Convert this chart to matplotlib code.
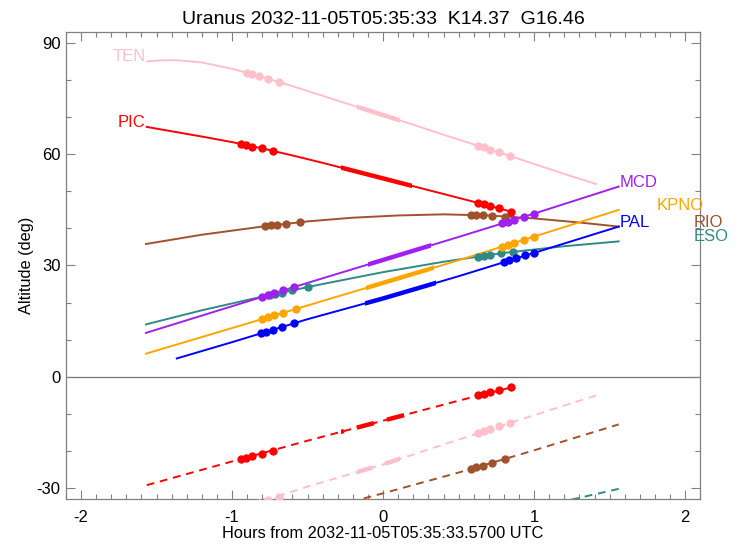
import matplotlib
matplotlib.use('Agg')
import matplotlib.pyplot as plt
from matplotlib.patches import Rectangle
from matplotlib.ticker import MultipleLocator

plt.rcParams['font.family'] = ['Liberation Sans', 'DejaVu Sans']
plt.rcParams['axes.unicode_minus'] = False

# Uranus altitude per site (hours from reference time, degrees)
ten_hours = [-1.56, -1.46, -1.36, -1.20, -1.00, -0.80, -0.60, -0.40, -0.20, 0.00, 0.20, 0.40, 0.60, 0.80, 1.00, 1.20, 1.41]
ten_alt = [85.1, 85.4, 85.4, 84.8, 83.1, 80.9, 78.4, 75.8, 73.2, 70.6, 68.0, 65.3, 62.7, 60.1, 57.4, 54.7, 52.0]
pic_hours = [-1.565, -1.20, -1.00, -0.80, -0.60, -0.40, -0.20, 0.00, 0.20, 0.40, 0.60, 0.86]
pic_alt = [67.4, 64.8, 63.3, 61.6, 59.7, 57.7, 55.6, 53.5, 51.4, 49.3, 47.2, 44.4]
mcd_hours = [-1.57, -1.00, -0.50, 0.00, 0.50, 1.00, 1.56]
mcd_alt = [11.8, 19.0, 25.3, 31.5, 37.7, 44.0, 51.3]
kpno_hours = [-1.57, -1.00, -0.50, 0.00, 0.50, 1.00, 1.56]
kpno_alt = [6.2, 13.1, 19.2, 25.3, 31.4, 37.8, 45.0]
pal_hours = [-1.366, -1.00, -0.50, 0.00, 0.50, 1.00, 1.56]
pal_alt = [4.9, 9.3, 15.5, 21.1, 27.1, 33.4, 40.5]
rio_hours = [-1.57, -1.20, -0.80, -0.50, -0.20, 0.10, 0.40, 0.70, 1.00, 1.30, 1.56]
rio_alt = [35.8, 38.3, 40.5, 41.9, 42.9, 43.5, 43.8, 43.5, 42.7, 41.6, 40.5]
eso_hours = [-1.57, -1.20, -0.80, -0.40, 0.00, 0.40, 0.80, 1.20, 1.56]
eso_alt = [14.1, 17.9, 21.6, 25.0, 28.2, 31.0, 33.4, 35.2, 36.5]

# Sun altitude per site (only the visible ones)
ten_sun_hours = [-1.56, -1.00, -0.50, 0.00, 0.50, 1.00, 1.41]
ten_sun_alt = [-43.5, -36.2, -29.7, -23.7, -17.0, -10.4, -5.1]
pic_sun_hours = [-1.565, -1.00, -0.50, 0.00, 0.50, 0.86]
pic_sun_alt = [-29.3, -22.9, -17.3, -11.9, -6.5, -2.8]
rio_sun_hours = [-1.57, -1.00, -0.50, 0.00, 0.50, 1.00, 1.56]
rio_sun_alt = [-49.0, -42.5, -36.9, -31.5, -25.9, -19.9, -12.9]
eso_sun_hours = [-1.57, 0.00, 1.00, 1.56]
eso_sun_alt = [-58.0, -44.0, -35.5, -30.3]

# observation times and altitudes (dots)
ten_obs = [-0.90, -0.865, -0.82, -0.76, -0.69, 0.63, 0.665, 0.71, 0.77, 0.84]
ten_obs_alt = [82.0, 81.6, 81.1, 80.4, 79.5, 62.3, 61.9, 61.3, 60.5, 59.6]
ten_obs_sun = [-35.0, -34.6, -34.0, -33.3, -32.4, -15.3, -14.8, -14.2, -13.4, -12.5]
pic_obs = [-0.944, -0.911, -0.865, -0.805, -0.732, 0.63, 0.665, 0.71, 0.77, 0.85]
pic_obs_alt = [62.8, 62.5, 62.1, 61.6, 60.9, 46.9, 46.5, 46.0, 45.4, 44.5]
pic_obs_sun = [-22.3, -21.9, -21.4, -20.8, -20.0, -5.1, -4.7, -4.2, -3.6, -2.7]
mcd_obs = [-0.80, -0.765, -0.72, -0.66, -0.59, 0.79, 0.825, 0.87, 0.93, 1.00]
mcd_obs_alt = [21.5, 21.9, 22.5, 23.3, 24.1, 41.4, 41.8, 42.4, 43.1, 44.0]
kpno_obs = [-0.80, -0.765, -0.72, -0.66, -0.58, 0.79, 0.825, 0.87, 0.93, 1.00]
kpno_obs_alt = [15.5, 16.0, 16.5, 17.2, 18.2, 35.1, 35.6, 36.1, 36.9, 37.8]
pal_obs = [-0.81, -0.775, -0.73, -0.67, -0.59, 0.80, 0.835, 0.88, 0.94, 1.00]
pal_obs_alt = [11.7, 12.1, 12.6, 13.4, 14.4, 30.9, 31.4, 31.9, 32.7, 33.4]
rio_obs = [-0.78, -0.745, -0.70, -0.64, -0.55, 0.58, 0.615, 0.66, 0.72, 0.81]
rio_obs_alt = [40.6, 40.8, 41.0, 41.3, 41.7, 43.6, 43.6, 43.55, 43.45, 43.2]
rio_obs_sun = [-40.0, -39.6, -39.1, -38.4, -37.4, -24.9, -24.5, -24.0, -23.3, -22.2]
eso_obs = [-0.75, -0.715, -0.67, -0.60, -0.50, 0.63, 0.665, 0.71, 0.78, 0.86]
eso_obs_alt = [22.0, 22.3, 22.7, 23.3, 24.1, 32.4, 32.6, 32.9, 33.3, 33.7]

# (start, end) of the highlighted stretch, hours
ten_window = (-0.17, 0.11)
pic_window = (-0.28, 0.19)
mcd_window = (-0.10, 0.32)
kpno_window = (-0.11, 0.34)
pal_window = (-0.12, 0.35)

sites = [
    # name, colour, hours, alt, sun hours, sun alt, obs, obs alt, obs sun, window, label side
    ('TEN', '#ffc0cb', ten_hours, ten_alt, ten_sun_hours, ten_sun_alt,
     ten_obs, ten_obs_alt, ten_obs_sun, ten_window, 'start'),
    ('PIC', '#ff0000', pic_hours, pic_alt, pic_sun_hours, pic_sun_alt,
     pic_obs, pic_obs_alt, pic_obs_sun, pic_window, 'start'),
    ('RIO', '#a0522d', rio_hours, rio_alt, rio_sun_hours, rio_sun_alt,
     rio_obs, rio_obs_alt, rio_obs_sun, None, 'end'),
    ('ESO', '#2e8b87', eso_hours, eso_alt, eso_sun_hours, eso_sun_alt,
     eso_obs, eso_obs_alt, None, None, 'end'),
    ('MCD', '#a020f0', mcd_hours, mcd_alt, None, None,
     mcd_obs, mcd_obs_alt, None, mcd_window, 'end'),
    ('KPNO', '#ffa500', kpno_hours, kpno_alt, None, None,
     kpno_obs, kpno_obs_alt, None, kpno_window, 'end'),
    ('PAL', '#0000ff', pal_hours, pal_alt, None, None,
     pal_obs, pal_obs_alt, None, pal_window, 'end'),
]

# extra label shift (points) so that the right-hand names do not collide
label_shift = {'KPNO': 26, 'RIO': 53, 'ESO': 53}

DASH = (0, (4, 3))

fig = plt.figure(figsize=(7.41, 5.44), dpi=100)
ax = fig.add_axes([0.089, 0.083, 0.856, 0.858])


def draw_curve(x, y, color, ls, window):
    ax.plot(x, y, color=color, lw=1.4, ls=ls, zorder=2)
    if window is not None:
        thick, = ax.plot(x, y, color=color, lw=3.2, ls=ls, zorder=2)
        clip = Rectangle((window[0], -100), window[1] - window[0], 250,
                         transform=ax.transData)
        thick.set_clip_path(clip)


ax.axhline(0, color='0.45', lw=0.9, zorder=1)

for (name, color, hrs, alt, sh, sa, obs, oalt, osun, window, side) in sites:
    draw_curve(hrs, alt, color, '-', window)
    ax.plot(obs, oalt, 'o', color=color, ms=6, mec='none', zorder=3)
    if sh is not None:
        draw_curve(sh, sa, color, DASH, window)
    if osun is not None:
        ax.plot(obs, osun, 'o', color=color, ms=6, mec='none', zorder=3)

    if side == 'start':
        ax.annotate(name, (hrs[0], alt[0]), xytext=(-1, 0),
                    textcoords='offset points', ha='right', va='baseline',
                    color=color, fontsize=12, annotation_clip=False)
    else:
        ax.annotate(name, (hrs[-1], alt[-1]),
                    xytext=(1 + label_shift.get(name, 0), 0),
                    textcoords='offset points', ha='left', va='baseline',
                    color=color, fontsize=12, annotation_clip=False)

ax.set_xlim(-2.1, 2.1)
ax.set_ylim(-33, 93)
ax.xaxis.set_major_locator(MultipleLocator(1))
ax.xaxis.set_minor_locator(MultipleLocator(0.1))
ax.yaxis.set_major_locator(MultipleLocator(30))
ax.yaxis.set_minor_locator(MultipleLocator(10))
ax.tick_params(which='both', direction='in', top=True, right=True,
               color='0.5', labelcolor='black', labelsize=12)
ax.tick_params(which='major', length=6.5, width=0.8)
ax.tick_params(which='minor', length=3.3, width=0.8)
ax.tick_params(axis='x', pad=8)
ax.tick_params(axis='y', pad=4)
for spine in ax.spines.values():
    spine.set_color('0.5')
    spine.set_linewidth(0.9)

ax.set_title('Uranus 2032-11-05T05:35:33  K14.37  G16.46', fontsize=14, pad=6)
ax.set_xlabel('Hours from 2032-11-05T05:35:33.5700 UTC', fontsize=11.8, labelpad=1)
ax.set_ylabel('Altitude (deg)', fontsize=11.8, labelpad=2)

fig.savefig('out.png', dpi=100)
